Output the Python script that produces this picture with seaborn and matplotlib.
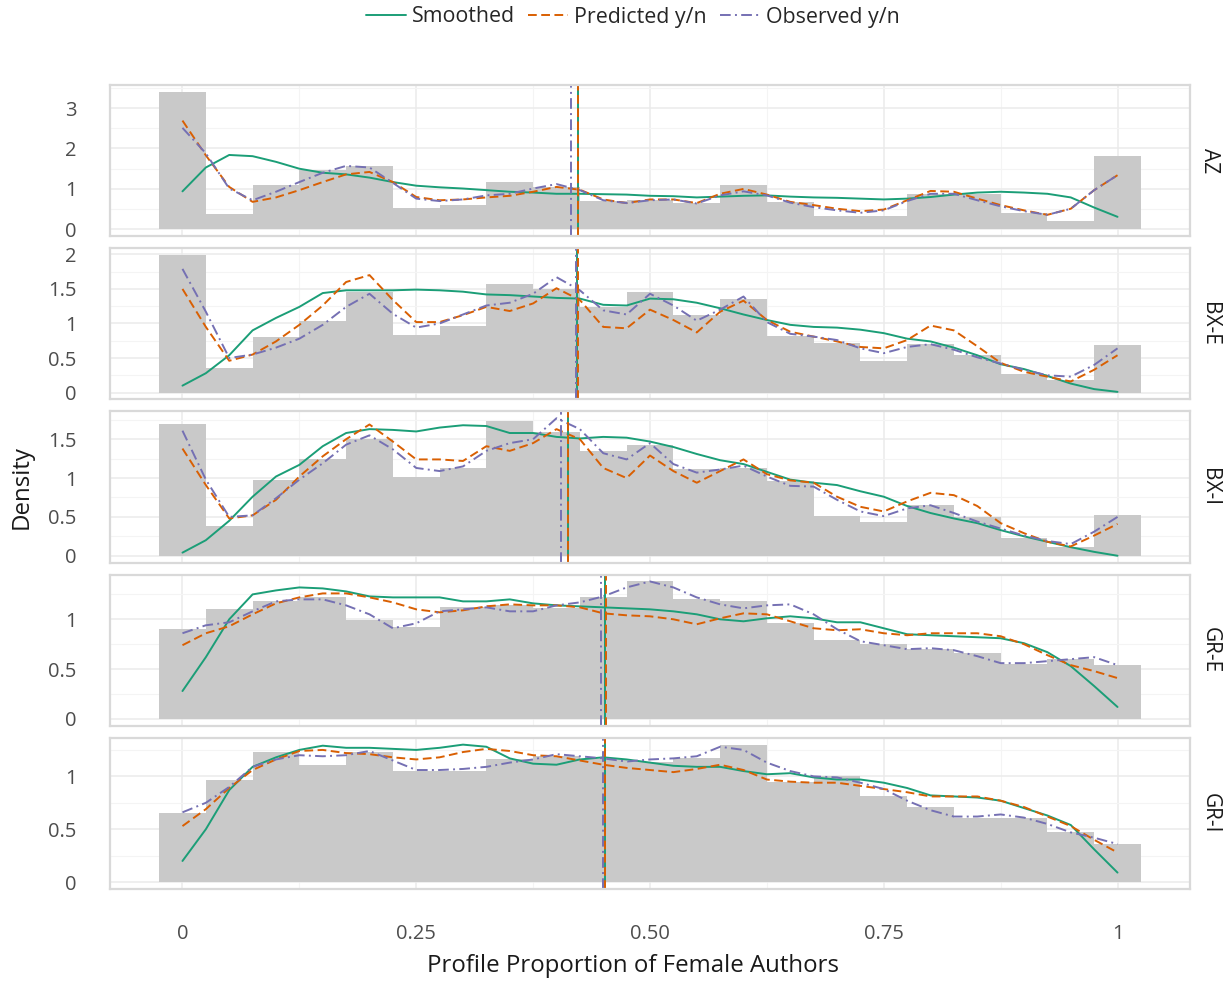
import numpy as np
import pandas as pd
import seaborn as sns
import matplotlib.pyplot as plt
from matplotlib.lines import Line2D
from matplotlib.ticker import FixedLocator, FuncFormatter

sns.set_theme(style="white")
plt.rcParams['font.family'] = ['Open Sans', 'DejaVu Sans']

# ---------------- data ----------------
panels = ["AZ", "BX-E", "BX-I", "GR-E", "GR-I"]

bin_centers = [0.00, 0.05, 0.10, 0.15, 0.20, 0.25, 0.30, 0.35, 0.40, 0.45, 0.50,
               0.55, 0.60, 0.65, 0.70, 0.75, 0.80, 0.85, 0.90, 0.95, 1.00]

x_grid = [0.000, 0.025, 0.050, 0.075, 0.100, 0.125, 0.150, 0.175, 0.200, 0.225,
          0.250, 0.275, 0.300, 0.325, 0.350, 0.375, 0.400, 0.425, 0.450, 0.475,
          0.500, 0.525, 0.550, 0.575, 0.600, 0.625, 0.650, 0.675, 0.700, 0.725,
          0.750, 0.775, 0.800, 0.825, 0.850, 0.875, 0.900, 0.925, 0.950, 0.975, 1.000]

hist_az = [3.40, 0.37, 1.09, 1.46, 1.56, 0.53, 0.60, 1.17, 1.05, 0.69, 0.72,
           0.65, 1.09, 0.68, 0.33, 0.33, 0.88, 0.88, 0.41, 0.20, 1.81]
smooth_az = [0.94, 1.53, 1.84, 1.81, 1.67, 1.50, 1.40, 1.36, 1.28, 1.17, 1.08, 1.04, 1.01, 0.97,
             0.93, 0.91, 0.88, 0.88, 0.87, 0.86, 0.83, 0.82, 0.79, 0.81, 0.83, 0.84, 0.81, 0.79,
             0.78, 0.76, 0.74, 0.76, 0.80, 0.86, 0.91, 0.93, 0.91, 0.88, 0.79, 0.54, 0.31]
pred_az = [2.69, 1.83, 1.05, 0.68, 0.79, 0.97, 1.17, 1.36, 1.42, 1.17, 0.80, 0.72, 0.74, 0.79,
           0.83, 0.93, 1.05, 0.98, 0.74, 0.65, 0.74, 0.74, 0.65, 0.88, 1.00, 0.86, 0.68, 0.60,
           0.51, 0.45, 0.49, 0.72, 0.95, 0.93, 0.76, 0.60, 0.47, 0.36, 0.51, 0.97, 1.34]
obs_az = [2.51, 1.88, 1.01, 0.72, 0.93, 1.17, 1.40, 1.57, 1.53, 1.15, 0.76, 0.70, 0.74, 0.84,
          0.88, 1.01, 1.12, 0.97, 0.72, 0.65, 0.72, 0.74, 0.64, 0.84, 0.94, 0.84, 0.66, 0.55,
          0.47, 0.41, 0.47, 0.70, 0.88, 0.88, 0.72, 0.57, 0.45, 0.36, 0.51, 0.97, 1.34]

hist_bxe = [1.99, 0.36, 0.80, 1.03, 1.46, 0.83, 0.96, 1.57, 1.50, 1.24, 1.45,
            1.12, 1.36, 0.82, 0.72, 0.46, 0.71, 0.54, 0.27, 0.18, 0.69]
smooth_bxe = [0.10, 0.28, 0.54, 0.90, 1.08, 1.24, 1.44, 1.48, 1.48, 1.48, 1.49, 1.48, 1.46, 1.42,
              1.41, 1.39, 1.37, 1.36, 1.27, 1.26, 1.36, 1.35, 1.30, 1.22, 1.13, 1.05, 0.98, 0.95,
              0.94, 0.91, 0.86, 0.78, 0.74, 0.65, 0.54, 0.41, 0.34, 0.24, 0.13, 0.05, 0.01]
pred_bxe = [1.50, 0.95, 0.46, 0.55, 0.74, 0.98, 1.26, 1.60, 1.70, 1.34, 1.02, 1.02, 1.12, 1.24,
            1.18, 1.29, 1.51, 1.34, 0.95, 0.93, 1.20, 1.05, 0.87, 1.17, 1.33, 1.05, 0.88, 0.81,
            0.74, 0.66, 0.64, 0.76, 0.97, 0.90, 0.67, 0.43, 0.30, 0.23, 0.16, 0.33, 0.54]
obs_bxe = [1.79, 1.17, 0.50, 0.55, 0.65, 0.78, 0.98, 1.24, 1.43, 1.14, 0.94, 1.00, 1.13, 1.26,
           1.30, 1.43, 1.67, 1.48, 1.19, 1.13, 1.43, 1.26, 1.04, 1.20, 1.39, 1.02, 0.85, 0.81,
           0.76, 0.64, 0.57, 0.66, 0.70, 0.62, 0.51, 0.42, 0.33, 0.25, 0.23, 0.40, 0.64]

hist_bxi = [1.69, 0.38, 0.98, 1.24, 1.50, 1.01, 1.13, 1.74, 1.59, 1.35, 1.43,
            1.12, 1.13, 0.96, 0.51, 0.44, 0.65, 0.50, 0.23, 0.11, 0.52]
smooth_bxi = [0.04, 0.20, 0.45, 0.76, 1.02, 1.17, 1.41, 1.58, 1.63, 1.62, 1.60, 1.65, 1.68, 1.67,
              1.58, 1.58, 1.53, 1.51, 1.53, 1.52, 1.47, 1.40, 1.31, 1.23, 1.18, 1.08, 0.98, 0.94,
              0.91, 0.83, 0.76, 0.64, 0.55, 0.48, 0.42, 0.33, 0.25, 0.18, 0.11, 0.05, 0.00]
pred_bxi = [1.38, 0.91, 0.48, 0.52, 0.72, 1.02, 1.28, 1.50, 1.69, 1.47, 1.24, 1.24, 1.22, 1.41,
            1.35, 1.45, 1.63, 1.50, 1.13, 1.00, 1.29, 1.09, 0.94, 1.09, 1.24, 1.05, 0.97, 0.94,
            0.76, 0.63, 0.57, 0.70, 0.81, 0.78, 0.64, 0.42, 0.29, 0.18, 0.12, 0.26, 0.41]
obs_bxi = [1.61, 0.98, 0.50, 0.52, 0.74, 0.98, 1.19, 1.43, 1.55, 1.37, 1.13, 1.09, 1.15, 1.35,
           1.45, 1.50, 1.77, 1.63, 1.32, 1.24, 1.45, 1.18, 1.07, 1.11, 1.16, 1.02, 0.90, 0.89,
           0.72, 0.57, 0.51, 0.61, 0.65, 0.55, 0.44, 0.35, 0.26, 0.19, 0.15, 0.31, 0.50]

hist_gre = [0.90, 1.10, 1.18, 1.22, 0.99, 0.92, 1.12, 1.14, 1.11, 1.22, 1.38,
            1.20, 1.18, 0.96, 0.79, 0.75, 0.70, 0.66, 0.55, 0.60, 0.54]
smooth_gre = [0.28, 0.62, 1.00, 1.25, 1.29, 1.32, 1.31, 1.28, 1.23, 1.22, 1.22, 1.22, 1.18, 1.18,
              1.20, 1.16, 1.14, 1.13, 1.12, 1.11, 1.10, 1.08, 1.05, 1.00, 0.98, 1.01, 1.03, 1.01,
              0.97, 0.97, 0.91, 0.85, 0.84, 0.83, 0.82, 0.81, 0.76, 0.67, 0.53, 0.33, 0.12]
pred_gre = [0.74, 0.86, 0.93, 1.05, 1.16, 1.22, 1.26, 1.26, 1.22, 1.17, 1.10, 1.07, 1.09, 1.13,
            1.15, 1.14, 1.14, 1.12, 1.06, 1.04, 1.03, 1.00, 0.95, 1.01, 1.06, 1.05, 0.98, 0.91,
            0.89, 0.90, 0.86, 0.84, 0.86, 0.86, 0.86, 0.83, 0.75, 0.64, 0.54, 0.48, 0.41]
obs_gre = [0.86, 0.94, 0.97, 1.08, 1.18, 1.20, 1.20, 1.14, 1.05, 0.91, 0.96, 1.08, 1.10, 1.12,
           1.08, 1.08, 1.14, 1.17, 1.23, 1.32, 1.38, 1.32, 1.22, 1.15, 1.11, 1.14, 1.15, 1.05,
           0.90, 0.78, 0.74, 0.70, 0.71, 0.69, 0.63, 0.56, 0.56, 0.58, 0.60, 0.62, 0.54]

hist_gri = [0.65, 0.97, 1.23, 1.11, 1.23, 1.05, 1.05, 1.16, 1.19, 1.16, 1.14,
            1.17, 1.30, 0.95, 1.00, 0.81, 0.71, 0.61, 0.61, 0.47, 0.36]
smooth_gri = [0.20, 0.50, 0.87, 1.09, 1.18, 1.25, 1.29, 1.27, 1.27, 1.26, 1.25, 1.27, 1.30, 1.28,
              1.17, 1.12, 1.11, 1.16, 1.18, 1.16, 1.13, 1.10, 1.09, 1.09, 1.05, 1.02, 1.03, 0.99,
              0.97, 0.97, 0.94, 0.89, 0.82, 0.81, 0.80, 0.77, 0.70, 0.63, 0.54, 0.31, 0.09]
pred_gri = [0.53, 0.69, 0.89, 1.06, 1.16, 1.24, 1.25, 1.22, 1.21, 1.18, 1.16, 1.18, 1.23, 1.26,
            1.24, 1.20, 1.19, 1.15, 1.11, 1.08, 1.06, 1.04, 1.07, 1.11, 1.06, 0.97, 0.95, 0.94,
            0.94, 0.91, 0.88, 0.85, 0.81, 0.81, 0.81, 0.77, 0.71, 0.62, 0.53, 0.40, 0.28]
obs_gri = [0.66, 0.75, 0.90, 1.09, 1.16, 1.20, 1.19, 1.20, 1.24, 1.15, 1.06, 1.06, 1.07, 1.09,
           1.13, 1.16, 1.21, 1.19, 1.17, 1.14, 1.16, 1.17, 1.19, 1.28, 1.25, 1.13, 1.05, 1.00,
           0.99, 0.94, 0.88, 0.77, 0.68, 0.62, 0.62, 0.64, 0.61, 0.55, 0.47, 0.42, 0.36]

mean_smooth = [0.423, 0.422, 0.412, 0.452, 0.452]
mean_pred = [0.423, 0.423, 0.412, 0.453, 0.452]
mean_obs = [0.415, 0.421, 0.405, 0.448, 0.450]

y_ticks = [[0, 1, 2, 3], [0, 0.5, 1, 1.5, 2], [0, 0.5, 1, 1.5], [0, 0.5, 1], [0, 0.5, 1]]
x_ticks = [0, 0.25, 0.5, 0.75, 1]
x_tick_labels = ["0", "0.25", "0.50", "0.75", "1"]

hists = [hist_az, hist_bxe, hist_bxi, hist_gre, hist_gri]
smooths = [smooth_az, smooth_bxe, smooth_bxi, smooth_gre, smooth_gri]
preds = [pred_az, pred_bxe, pred_bxi, pred_gre, pred_gri]
obss = [obs_az, obs_bxe, obs_bxi, obs_gre, obs_gri]

# ---------------- style ----------------
C_SMOOTH = "#1b9e77"
C_PRED = "#d95f02"
C_OBS = "#7570b3"
LS_SMOOTH = "-"
LS_PRED = (0, (4.5, 2.3))
LS_OBS = (0, (5.5, 2.2, 1.0, 2.2))
LW = 1.4

W, H = 1231, 983
fig, axes = plt.subplots(5, 1, figsize=(W / 100, H / 100), dpi=100, sharex=True)
fig.subplots_adjust(left=110 / W, right=1190 / W, top=1 - 85 / H, bottom=1 - 889 / H,
                    hspace=0.079)

for i, ax in enumerate(axes):
    ax.set_axisbelow(True)
    sns.histplot(x=bin_centers, weights=hists[i], binwidth=0.05, binrange=(-0.025, 1.025),
                 stat="count", color="#c9c9c9", alpha=1.0, edgecolor="none", linewidth=0,
                 ax=ax)
    sns.lineplot(x=x_grid, y=smooths[i], color=C_SMOOTH, linestyle=LS_SMOOTH, linewidth=LW, ax=ax)
    sns.lineplot(x=x_grid, y=preds[i], color=C_PRED, linestyle=LS_PRED, linewidth=LW, ax=ax)
    sns.lineplot(x=x_grid, y=obss[i], color=C_OBS, linestyle=LS_OBS, linewidth=LW, ax=ax)
    ax.axvline(mean_smooth[i], color=C_SMOOTH, linestyle=LS_SMOOTH, linewidth=LW)
    ax.axvline(mean_pred[i], color=C_PRED, linestyle=LS_PRED, linewidth=LW)
    ax.axvline(mean_obs[i], color=C_OBS, linestyle=LS_OBS, linewidth=LW)

    ymax = max(max(hists[i]), max(smooths[i]), max(preds[i]), max(obss[i]))
    ax.set_ylim(-0.05 * ymax, 1.05 * ymax)
    ax.set_xlim(-0.0775, 1.0775)

    yt = y_ticks[i]
    ax.yaxis.set_major_locator(FixedLocator(yt))
    step = yt[1] - yt[0]
    ax.yaxis.set_minor_locator(FixedLocator([t + step / 2 for t in yt]))
    ax.yaxis.set_major_formatter(FuncFormatter(lambda v, p: f"{v:g}"))
    ax.xaxis.set_major_locator(FixedLocator(x_ticks))
    ax.xaxis.set_minor_locator(FixedLocator([0.125, 0.375, 0.625, 0.875]))
    ax.set_xticklabels(x_tick_labels)

    ax.grid(which="major", color="#ebebeb", linewidth=1.1)
    ax.grid(which="minor", color="#f4f4f4", linewidth=0.8)
    for s in ax.spines.values():
        s.set_visible(True)
        s.set_color("#d9d9d9")
        s.set_linewidth(1.6)
    ax.tick_params(axis="y", which="both", length=0, pad=24, labelsize=14.5, labelcolor="#4d4d4d")
    ax.tick_params(axis="x", which="both", length=0, pad=25, labelsize=14.5, labelcolor="#4d4d4d")
    ax.set_ylabel("")
    ax.set_xlabel("")
    ax.text(1.0 + 20 / 1080, 0.5, panels[i], transform=ax.transAxes, rotation=-90,
            ha="center", va="center", fontsize=15, color="#1a1a1a")

fig.text(22 / W, 1 - 487 / H, "Density", rotation=90, ha="center", va="center",
         fontsize=17.3, color="#1a1a1a")
fig.text(633 / W, 1 - 966 / H, "Profile Proportion of Female Authors", ha="center",
         va="center", fontsize=17.3, color="#1a1a1a")

handles = [Line2D([0], [0], color=C_SMOOTH, linestyle=LS_SMOOTH, linewidth=LW),
           Line2D([0], [0], color=C_PRED, linestyle=LS_PRED, linewidth=LW),
           Line2D([0], [0], color=C_OBS, linestyle=LS_OBS, linewidth=LW)]
fig.legend(handles, ["Smoothed", "Predicted y/n", "Observed y/n"], loc="center",
           bbox_to_anchor=(633 / W, 1 - 17 / H), ncol=3, frameon=False, fontsize=15.4,
           handlelength=1.85, handletextpad=0.3, columnspacing=0.6)

fig.savefig("out.png", dpi=100)
